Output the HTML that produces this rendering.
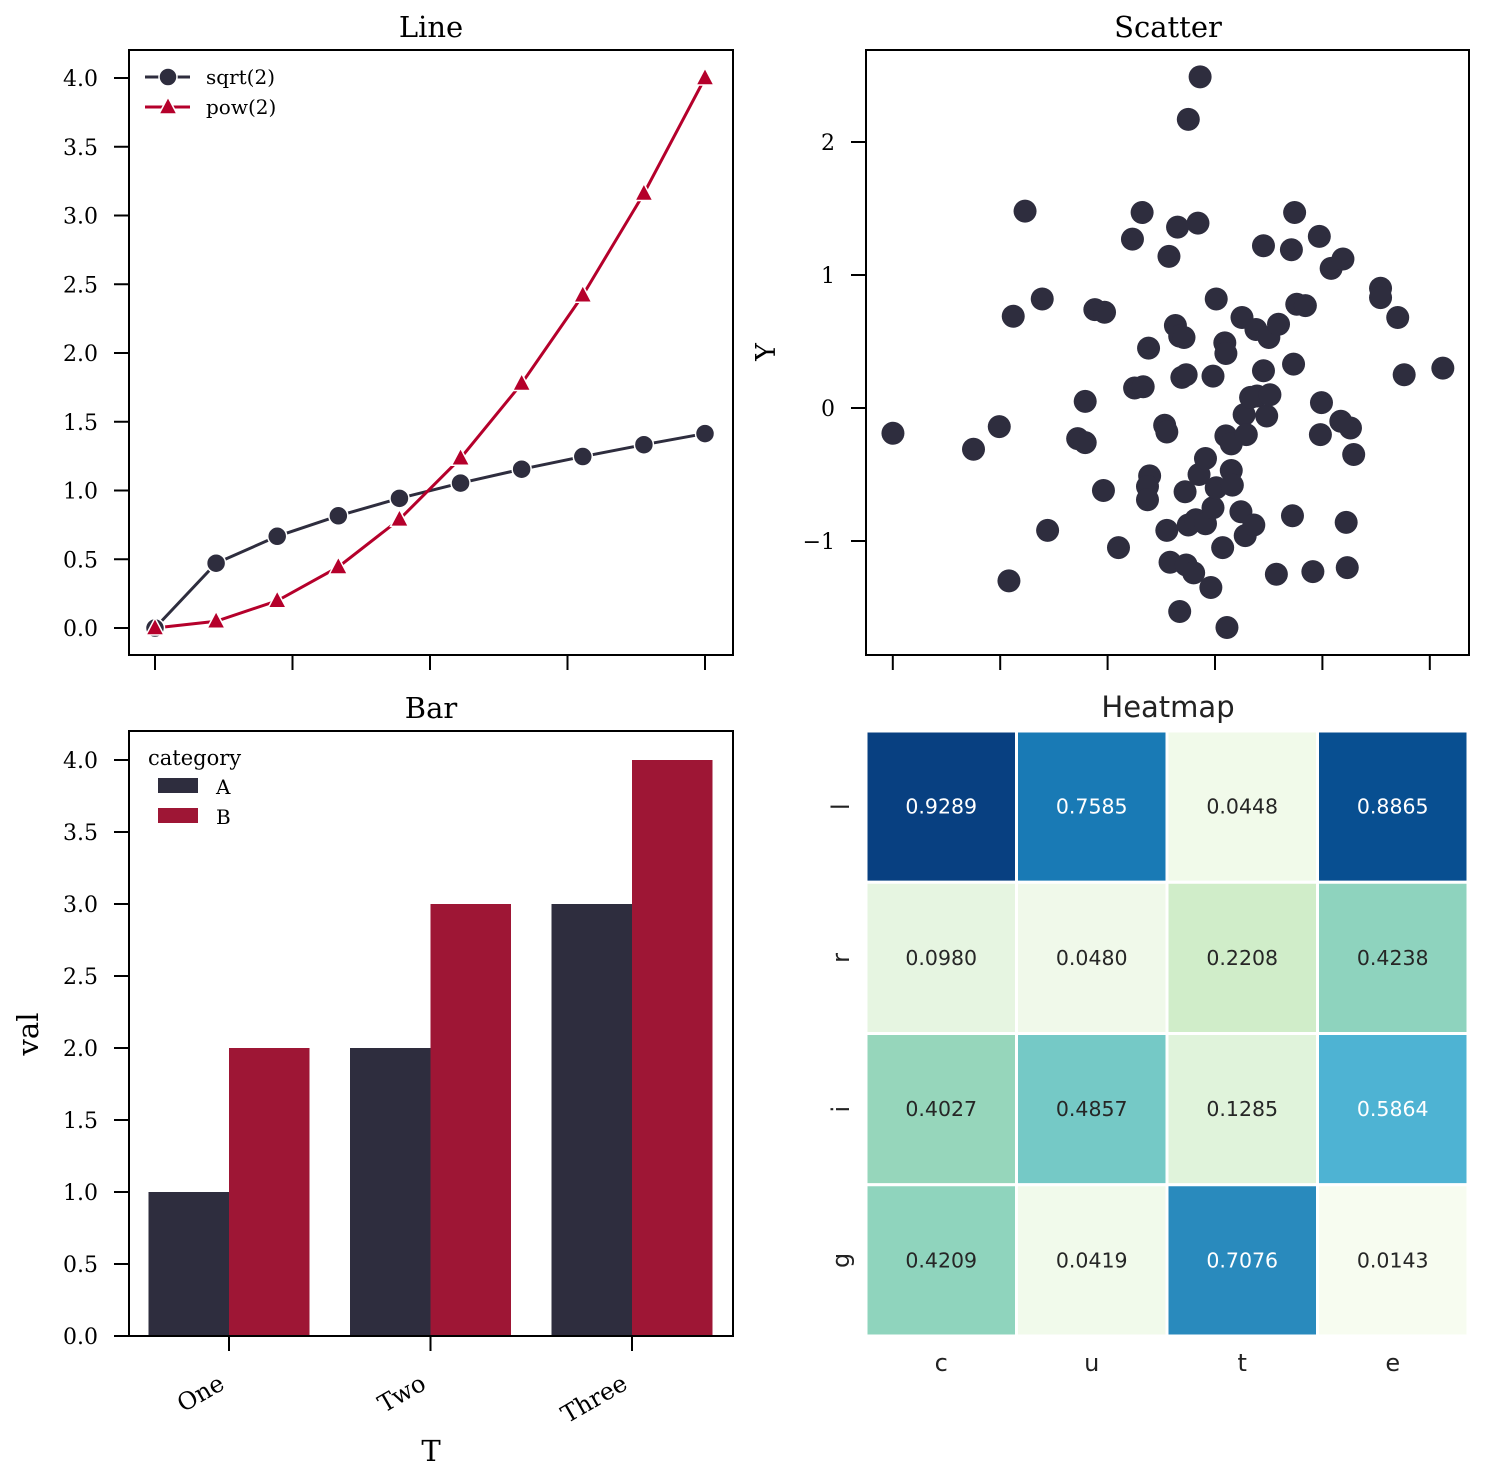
<!DOCTYPE html>
<html><head><meta charset="utf-8">
<style>
html,body{margin:0;padding:0;background:#fff;}
svg{display:block;font-family:"DejaVu Serif","Liberation Serif",serif;}
.sans{font-family:"DejaVu Sans","Liberation Sans",sans-serif;}
</style></head>
<body>
<svg id="fig" width="1485" height="1482" viewBox="0 0 1485 1482" xmlns="http://www.w3.org/2000/svg">
<g id="line-panel"></g>
<g id="scatter-panel"></g>
<g id="bar-panel"></g>
<g id="heat-panel"></g>
</svg>
<script>
// ---- Line data
const lineX = [0,0.2222,0.4444,0.6667,0.8889,1.1111,1.3333,1.5556,1.7778,2.0];
const sqrtVals = [0,0.471,0.667,0.816,0.943,1.054,1.155,1.247,1.333,1.414];
const powVals = [0,0.049,0.198,0.444,0.790,1.235,1.778,2.420,3.160,4.0];
const lineYTicks = [0,0.5,1,1.5,2,2.5,3,3.5,4];
const lineYTickLabels = ["0.0","0.5","1.0","1.5","2.0","2.5","3.0","3.5","4.0"];
const lineXTicks = [0,0.5,1,1.5,2];
// ---- Scatter data
const scX = [-2.98,-2.23,-1.99,-1.90,-1.86,-1.75,-1.59,-1.54,-1.26,-1.19,-1.19,-1.10,-1.01,-1.02,-0.88,-0.75,-0.73,-0.65,-0.66,-0.60,-0.59,-0.61,-0.61,-0.45,-0.43,-0.43,-0.41,-0.40,-0.35,-0.33,-0.31,-0.27,-0.31,-0.29,-0.25,-0.26,-0.25,-0.23,-0.23,-0.18,-0.16,-0.14,-0.12,-0.13,-0.07,-0.07,-0.02,0,0,0.03,0.03,0.09,0.11,0.12,0.12,0.13,0.17,0.17,0.18,0.26,0.27,0.29,0.30,0.31,0.35,0.38,0.40,0.41,0.47,0.47,0.50,0.52,0.53,0.59,0.61,0.73,0.75,0.76,0.74,0.78,0.86,0.93,0.99,1.01,1.00,1.10,1.19,1.21,1.24,1.25,1.28,1.31,1.56,1.56,1.72,1.78,2.14];
const scY = [-0.19,-0.31,-0.14,-1.30,0.69,1.48,0.82,-0.92,-0.23,-0.26,0.05,0.74,0.72,-0.62,-1.05,1.27,0.15,0.16,1.47,0.45,-0.51,-0.59,-0.69,-0.13,-0.18,-0.92,1.14,-1.16,0.62,1.36,0.54,0.53,-1.53,0.23,0.25,-0.63,-1.18,-0.88,2.17,-1.24,-0.84,1.39,2.49,-0.50,-0.38,-0.87,-1.35,-0.75,0.24,0.82,-0.60,-1.05,0.49,0.41,-0.21,-1.65,-0.47,-0.27,-0.58,-0.78,0.68,-0.05,-0.96,-0.20,0.08,-0.88,0.59,0.09,1.22,0.28,-0.06,0.53,0.10,-1.25,0.63,1.19,0.33,1.47,-0.81,0.78,0.77,-1.23,1.29,0.04,-0.20,1.05,-0.10,1.12,-0.86,-1.20,-0.15,-0.35,0.90,0.83,0.68,0.25,0.30];
const scYTicks = [-1,0,1,2];
const scYTickLabels = ["\u22121","0","1","2"];
const scXTicks = [-3,-2,-1,0,1,2];
// ---- Bar data
const barCats = ["One","Two","Three"];
const barA = [1,2,3];
const barB = [2,3,4];
const barYTicks = [0,0.5,1,1.5,2,2.5,3,3.5,4];
const barYTickLabels = ["0.0","0.5","1.0","1.5","2.0","2.5","3.0","3.5","4.0"];
// ---- Heatmap data
const heatCols = ["c","u","t","e"];
const heatRows = ["l","r","i","g"];
const heatVals = [[0.9289,0.7585,0.0448,0.8865],[0.0980,0.0480,0.2208,0.4238],[0.4027,0.4857,0.1285,0.5864],[0.4209,0.0419,0.7076,0.0143]];

const NS="http://www.w3.org/2000/svg";
function mk(parent,tag,attrs,text){const e=document.createElementNS(NS,tag);for(const k in attrs)e.setAttribute(k,attrs[k]);if(text!==undefined)e.textContent=text;parent.appendChild(e);return e;}
const DARK="#2e2d3e", RED="#b5002b", BRED="#9e1635";
const TK=15, TLX=31, TFS=22;

// ===== Line panel
(function(){
  const g=document.getElementById('line-panel');
  const L=129,R=733,T=50,B=655;
  const sx=v=>155+v*275, sy=v=>628-v*137.5;
  let t=mk(g,'text',{x:431,y:37,'text-anchor':'middle','font-size':29});
  t.textContent='Line';
  lineYTicks.forEach((v,i)=>{
    let l=mk(g,'line',{x1:L-TK,x2:L,y1:sy(v),y2:sy(v),stroke:'#000','stroke-width':2});
    
    let tx=mk(g,'text',{x:L-TLX,y:sy(v)+8,'text-anchor':'end','font-size':TFS},lineYTickLabels[i]);
    
  });
  lineXTicks.forEach(v=>{
    let l=mk(g,'line',{x1:sx(v),x2:sx(v),y1:B,y2:B+TK,stroke:'#000','stroke-width':2});
    
  });
  let p1=mk(g,'polyline',{points:lineX.map((x,i)=>sx(x)+','+sy(sqrtVals[i])).join(' '),fill:'none',stroke:DARK,'stroke-width':3});
  
  let p2=mk(g,'polyline',{points:lineX.map((x,i)=>sx(x)+','+sy(powVals[i])).join(' '),fill:'none',stroke:RED,'stroke-width':3});
  
  lineX.forEach((x,i)=>{
    let c=mk(g,'circle',{cx:sx(x),cy:sy(sqrtVals[i]),r:9.5,fill:DARK,stroke:'#fff','stroke-width':1.5});
    
  });
  lineX.forEach((x,i)=>{
    const cx=sx(x),cy=sy(powVals[i]);
    let p=mk(g,'polygon',{points:`${cx},${cy-10} ${cx-9},${cy+7} ${cx+9},${cy+7}`,fill:RED,stroke:'#fff','stroke-width':1.5});
    
  });
  let fr=mk(g,'rect',{x:L,y:T,width:R-L,height:B-T,fill:'none',stroke:'#000','stroke-width':2});
  
  const lg=mk(g,'g',{});
  mk(lg,'line',{x1:145,x2:190,y1:77,y2:77,stroke:DARK,'stroke-width':3});
  mk(lg,'circle',{cx:168,cy:77,r:9,fill:DARK,stroke:'#fff','stroke-width':1.5});
  mk(lg,'text',{x:206,y:84,'font-size':20},'sqrt(2)');
  mk(lg,'line',{x1:145,x2:190,y1:107,y2:107,stroke:RED,'stroke-width':3});
  mk(lg,'polygon',{points:'168,97 159,114 177,114',fill:RED,stroke:'#fff','stroke-width':1.5});
  mk(lg,'text',{x:206,y:114,'font-size':20},'pow(2)');
})();

// ===== Scatter panel
(function(){
  const g=document.getElementById('scatter-panel');
  const L=866,R=1469,T=50,B=655;
  const sx=v=>1213+v*107.4, sy=v=>408-v*133;
  let t=mk(g,'text',{x:1168,y:37,'text-anchor':'middle','font-size':29},'Scatter');
  
  let yl=mk(g,'text',{x:0,y:0,'text-anchor':'middle','font-size':27,transform:'translate(775,352) rotate(-90)'},'Y');
  
  scYTicks.forEach((v,i)=>{
    let l=mk(g,'line',{x1:L-TK,x2:L,y1:sy(v),y2:sy(v),stroke:'#000','stroke-width':2});
    
    let tx=mk(g,'text',{x:L-TLX,y:sy(v)+8,'text-anchor':'end','font-size':TFS},scYTickLabels[i]);
    
  });
  scXTicks.forEach(v=>{
    let l=mk(g,'line',{x1:sx(v)+2,x2:sx(v)+2,y1:B,y2:B+TK,stroke:'#000','stroke-width':2});
    
  });
  scX.forEach((x,i)=>{
    let c=mk(g,'circle',{cx:sx(x),cy:sy(scY[i]),r:11.5,fill:DARK});
    
  });
  let fr=mk(g,'rect',{x:L,y:T,width:R-L,height:B-T,fill:'none',stroke:'#000','stroke-width':2});
  
})();

// ===== Bar panel
(function(){
  const g=document.getElementById('bar-panel');
  const L=129,R=733,T=731,B=1336;
  const cx=i=>229+i*201.5, sy=v=>1336-v*144, bw=80.5;
  let t=mk(g,'text',{x:431,y:718,'text-anchor':'middle','font-size':29},'Bar');
  
  barYTicks.forEach((v,i)=>{
    let l=mk(g,'line',{x1:L-TK,x2:L,y1:sy(v),y2:sy(v),stroke:'#000','stroke-width':2});
    
    let tx=mk(g,'text',{x:L-TLX,y:sy(v)+8,'text-anchor':'end','font-size':TFS},barYTickLabels[i]);
    
  });
  barCats.forEach((c,i)=>{
    let a=mk(g,'rect',{x:cx(i)-bw,y:sy(barA[i]),width:bw,height:sy(0)-sy(barA[i]),fill:DARK});
    
    let b=mk(g,'rect',{x:cx(i),y:sy(barB[i]),width:bw,height:sy(0)-sy(barB[i]),fill:BRED});
    
    let l=mk(g,'line',{x1:cx(i),x2:cx(i),y1:B,y2:B+TK,stroke:'#000','stroke-width':2});
    
    let tx=mk(g,'text',{x:0,y:0,'text-anchor':'end','font-size':24,transform:`translate(${cx(i)-3},${B+52}) rotate(-30)`},c);
    
  });
  let xt=mk(g,'text',{x:431,y:1461,'text-anchor':'middle','font-size':29},'T');
  
  let yt=mk(g,'text',{x:0,y:0,'text-anchor':'middle','font-size':29,transform:'translate(38,1034) rotate(-90)'},'val');
  
  let fr=mk(g,'rect',{x:L,y:T,width:R-L,height:B-T,fill:'none',stroke:'#000','stroke-width':2});
  
  const lg=mk(g,'g',{});
  mk(lg,'text',{x:148,y:765,'font-size':21},'category');
  mk(lg,'rect',{x:158,y:778,width:40,height:15,fill:DARK});
  mk(lg,'text',{x:216,y:794,'font-size':20},'A');
  mk(lg,'rect',{x:158,y:808,width:40,height:15,fill:BRED});
  mk(lg,'text',{x:216,y:824,'font-size':20},'B');
})();

// ===== Heatmap panel
(function(){
  const g=document.getElementById('heat-panel');
  const L=866,T=731,W=602/4,H=605/4;
  const stops=[[247,252,240],[224,243,219],[204,235,197],[168,221,181],[123,204,196],[78,179,211],[43,140,190],[8,104,172],[8,64,129]];
  let mn=Infinity,mx=-Infinity;heatVals.forEach(r=>r.forEach(v=>{mn=Math.min(mn,v);mx=Math.max(mx,v);}));
  function col(v){let t=(v-mn)/(mx-mn)*8;let i=Math.min(7,Math.floor(t)),f=t-i;const a=stops[i],b=stops[i+1];
    return a.map((c,k)=>Math.round(c+(b[k]-c)*f));}
  let t=mk(g,'text',{x:1168,y:717,'text-anchor':'middle','font-size':29,class:'sans',fill:'#222'},'Heatmap');
  
  heatRows.forEach((r,i)=>{
    heatCols.forEach((c,j)=>{
      const v=heatVals[i][j],rgb=col(v);
      let rc=mk(g,'rect',{x:L+j*W,y:T+i*H,width:W,height:H,fill:`rgb(${rgb.join(',')})`,stroke:'#fff','stroke-width':3});
      
      const lum=(0.299*rgb[0]+0.587*rgb[1]+0.114*rgb[2]);
      let tx=mk(g,'text',{x:L+j*W+W/2,y:T+i*H+H/2+7,'text-anchor':'middle','font-size':20.5,class:'sans',fill:lum<165?'#fff':'#262626'},v.toFixed(4));
      
    });
    let rl=mk(g,'text',{x:0,y:0,'text-anchor':'middle','font-size':24,class:'sans',fill:'#222',transform:`translate(849,${T+i*H+H/2}) rotate(-90)`},r);
    
  });
  heatCols.forEach((c,j)=>{
    let cl=mk(g,'text',{x:L+j*W+W/2,y:1371,'text-anchor':'middle','font-size':24,class:'sans',fill:'#222'},c);
    
  });
})();
</script>
</body></html>
